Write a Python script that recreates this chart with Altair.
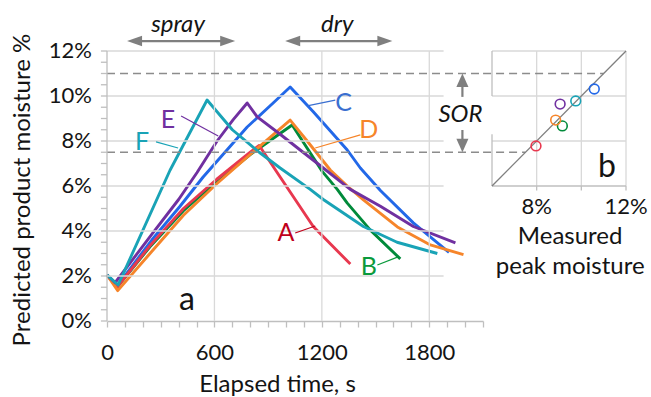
import altair as alt
import pandas as pd

FONT = "Lato"
TXT = "#141414"
GRID = "#D9D9D9"
AXC = "#BFBFBF"
ARROW = "#7F7F7F"

# ---------------- data: predicted moisture (%) vs elapsed time (s) ----------------
series = ["C", "B", "A", "D", "E", "F"]   # draw order
line_colors = {"A": "#E8384F", "B": "#008A3A", "C": "#2268E8",
               "D": "#F6852A", "E": "#7030A0", "F": "#19A3B6"}
label_colors = {"A": "#C0001A", "B": "#0A9A3C", "C": "#3A6FD0",
                "D": "#F6852A", "E": "#7030A0", "F": "#19A3B6"}

A_t = [0, 56, 240, 427, 613, 800, 850, 967, 1152, 1359]
A_v = [2.05, 1.5, 3.35, 5.0, 6.3, 7.5, 7.8, 6.4, 4.2, 2.53]
B_t = [0, 56, 240, 427, 613, 800, 1034, 1202, 1286, 1342, 1471, 1638]
B_v = [2.05, 1.5, 3.3, 4.9, 6.2, 7.4, 8.71, 6.65, 5.85, 5.24, 4.04, 2.76]
C_t = [0, 56, 250, 408, 537, 783, 928, 1023, 1152, 1342, 1415, 1527, 1711, 1910]
C_v = [2.05, 1.55, 3.6, 5.1, 6.4, 8.62, 9.69, 10.4, 9.3, 7.6, 6.8, 5.8, 4.36, 3.05]
D_t = [0, 60, 240, 427, 613, 800, 1023, 1118, 1247, 1342, 1432, 1622, 1806, 1991]
D_v = [2.05, 1.35, 3.0, 4.7, 6.1, 7.4, 8.93, 8.0, 6.71, 6.0, 5.38, 4.18, 3.38, 2.95]
E_t = [0, 45, 250, 400, 503, 615, 705, 783, 839, 967, 1079, 1208, 1359, 1527, 1711, 1946]
E_v = [2.05, 1.7, 3.85, 5.4, 6.6, 8.0, 8.95, 9.69, 9.07, 8.3, 7.6, 6.8, 5.85, 5.1, 4.2, 3.47]
F_t = [0, 62, 352, 559, 700, 850, 967, 1135, 1208, 1432, 1620, 1845]
F_v = [2.05, 1.6, 6.7, 9.82, 8.5, 7.5, 6.8, 5.85, 5.4, 4.2, 3.5, 3.0]

# inset: measured vs predicted peak moisture (%)
peak_series = ["A", "B", "C", "D", "E", "F"]
peak_measured = [7.97, 9.15, 10.58, 8.85, 9.05, 9.75]
peak_predicted = [7.78, 8.67, 10.31, 8.93, 9.64, 9.78]

# line labels and leader lines
lab_names = ["A", "B", "C", "D", "E", "F"]
lab_t = [1000, 1462, 1322, 1462, 341, 196]
lab_v = [3.91, 2.4, 9.69, 8.49, 8.93, 7.96]
lead_t1 = [1051, 1510, 1275, 1415, 414, 274]
lead_v1 = [3.91, 2.49, 9.82, 8.27, 9.11, 7.96]
lead_t2 = [1163, 1622, 1118, 1163, 621, 397]
lead_v2 = [4.22, 2.84, 9.56, 7.69, 8.22, 7.69]

# axis ticks / grid
x_ticks = list(range(0, 2101, 100))
y_ticks = [i * 0.5 for i in range(25)]
y_labels = [0, 2, 4, 6, 8, 10, 12]
h_grid = [2, 4, 6, 8, 10, 12]
v_grid = [600, 1200, 1800]
sor_levels = [11, 7.5]
inset_grid = [8, 10]

# ---------------- tables ----------------
all_t = {"A": A_t, "B": B_t, "C": C_t, "D": D_t, "E": E_t, "F": F_t}
all_v = {"A": A_v, "B": B_v, "C": C_v, "D": D_v, "E": E_v, "F": F_v}
rows = []
for s in series:
    for t, v in zip(all_t[s], all_v[s]):
        rows.append({"series": s, "t": t, "v": v})
df_lines = pd.DataFrame(rows)

df_peak = pd.DataFrame({"series": peak_series, "meas": peak_measured, "pred": peak_predicted,
                        "col": [line_colors[s] for s in peak_series]})
df_lab = pd.DataFrame({"name": lab_names, "t": lab_t, "v": lab_v,
                       "col": [label_colors[s] for s in lab_names]})
df_lead = pd.DataFrame({"t": lead_t1, "v": lead_v1, "t2": lead_t2, "v2": lead_v2,
                        "col": [label_colors[s] for s in lab_names]})

YS = alt.Scale(domain=[0, 12], nice=False, zero=False)


def XS():
    return alt.Scale(domain=[0, 2100], nice=False, zero=False)


def IXS():
    return alt.Scale(domain=[6, 12], range=[385, 519], nice=False, zero=False)


def X(field):
    return alt.X(field, type="quantitative", scale=XS(), axis=None)


def Y(field):
    return alt.Y(field, type="quantitative", scale=YS, axis=None)


def IX(field):
    return alt.X(field, type="quantitative", scale=IXS(), axis=None)


# ---------------- main panel ----------------
hgrid = alt.Chart(pd.DataFrame({"v": h_grid, "t": 0, "t2": 1880})).mark_rule(
    color=GRID, strokeWidth=1.3).encode(x=X("t"), x2="t2", y=Y("v"))
vgrid = alt.Chart(pd.DataFrame({"t": v_grid, "v": 0, "v2": 12})).mark_rule(
    color=GRID, strokeWidth=1.3).encode(x=X("t"), y=Y("v"), y2="v2")
dash_main = alt.Chart(pd.DataFrame({"v": sor_levels, "t": 0, "t2": 2100})).mark_rule(
    color="#8C8C8C", strokeWidth=1.5, strokeDash=[8, 5]).encode(x=X("t"), x2="t2", y=Y("v"))

x_axis = alt.Axis(values=x_ticks, format="d", orient="bottom",
                  labelExpr="datum.value % 600 === 0 ? datum.label : ''",
                  labelOverlap=False, labelFlush=False, grid=False,
                  domainColor=AXC, domainWidth=1.3, tickColor=AXC, tickWidth=1.3, tickSize=6,
                  labelFont=FONT, labelFontSize=22, labelColor=TXT, labelPadding=15,
                  title="Elapsed time, s", titleFont=FONT, titleFontSize=24,
                  titleFontWeight="normal", titleColor=TXT, titleX=170, titleY=63,
                  titleAlign="center", titleBaseline="middle")

lines = alt.Chart(df_lines).mark_line(strokeWidth=2.9, strokeJoin="round").encode(
    x=alt.X("t:Q", scale=XS(), axis=x_axis),
    y=Y("v"),
    color=alt.Color("series:N", scale=alt.Scale(domain=series,
                                                range=[line_colors[s] for s in series]),
                    legend=None),
    detail="series:N",
)

# y axis (drawn with rules and text through the scales)
y_domain = alt.Chart(pd.DataFrame({"t": [0], "v": [0], "v2": [12]})).mark_rule(
    color=AXC, strokeWidth=1.3).encode(x=X("t"), y=Y("v"), y2="v2")
y_tick_marks = alt.Chart(pd.DataFrame({"v": y_ticks, "t": -34, "t2": 0})).mark_rule(
    color=AXC, strokeWidth=1.3).encode(x=X("t"), x2="t2", y=Y("v"))
y_tick_labels = alt.Chart(pd.DataFrame({"v": y_labels, "t": -84,
                                        "txt": [f"{v}%" for v in y_labels]})).mark_text(
    font=FONT, fontSize=22, color=TXT, align="right", baseline="middle").encode(
    x=X("t"), y=Y("v"), text="txt:N")
y_title = alt.Chart(pd.DataFrame({"t": [-468], "v": [5.82],
                                  "txt": ["Predicted product moisture %"]})).mark_text(
    font=FONT, fontSize=24, color=TXT, angle=270, align="center", baseline="middle").encode(
    x=X("t"), y=Y("v"), text="txt:N")

leaders = alt.Chart(df_lead).mark_rule(strokeWidth=1.2).encode(
    x=X("t"), x2="t2", y=Y("v"), y2="v2", color=alt.Color("col:N", scale=None))
labels = alt.Chart(df_lab).mark_text(font=FONT, fontSize=25).encode(
    x=X("t"), y=Y("v"), text="name:N", color=alt.Color("col:N", scale=None))

# spray / dry arrows
df_arrow_line = pd.DataFrame({"t": [154, 1037], "t2": [674, 1552], "v": [12.44, 12.44]})
arrow_lines = alt.Chart(df_arrow_line).mark_rule(color=ARROW, strokeWidth=2.2).encode(
    x=X("t"), x2="t2", y=Y("v"))
left_heads = alt.Chart(pd.DataFrame({"t": [154, 1037], "v": [12.44, 12.44]})).mark_point(
    shape="M1,-0.7L-1,0L1,0.7Z", filled=True, size=225, color=ARROW, opacity=1
).encode(x=X("t"), y=Y("v"))
right_heads = alt.Chart(pd.DataFrame({"t": [674, 1552], "v": [12.44, 12.44]})).mark_point(
    shape="M-1,-0.7L1,0L-1,0.7Z", filled=True, size=225, color=ARROW, opacity=1
).encode(x=X("t"), y=Y("v"))
phase_text = alt.Chart(pd.DataFrame({"t": [397, 1286], "v": [13.15, 13.15],
                                     "txt": ["spray", "dry"]})).mark_text(
    font=FONT, fontSize=24, fontStyle="italic", color=TXT).encode(
    x=X("t"), y=Y("v"), text="txt:N")

# SOR arrows
sor_stem = alt.Chart(pd.DataFrame({"t": [1985, 1985], "v": [9.96, 8.49],
                                   "v2": [10.7, 7.8]})).mark_rule(
    color=ARROW, strokeWidth=2.2).encode(x=X("t"), y=Y("v"), y2="v2")
up_head = alt.Chart(pd.DataFrame({"t": [1985], "v": [10.7]})).mark_point(
    shape="M-0.9,1L0,-1L0.9,1Z", filled=True, size=180, color=ARROW, opacity=1
).encode(x=X("t"), y=Y("v"))
down_head = alt.Chart(pd.DataFrame({"t": [1985], "v": [7.8]})).mark_point(
    shape="M-0.9,-1L0,1L0.9,-1Z", filled=True, size=180, color=ARROW, opacity=1
).encode(x=X("t"), y=Y("v"))
sor_text = alt.Chart(pd.DataFrame({"t": [1974], "v": [9.16], "txt": ["SOR"]})).mark_text(
    font=FONT, fontSize=24, fontStyle="italic", color=TXT).encode(
    x=X("t"), y=Y("v"), text="txt:N")

a_text = alt.Chart(pd.DataFrame({"t": [447], "v": [0.95], "txt": ["a"]})).mark_text(
    font=FONT, fontSize=32, color=TXT).encode(x=X("t"), y=Y("v"), text="txt:N")

# ---------------- inset panel ----------------
ig_v = alt.Chart(pd.DataFrame({"m": inset_grid, "v": 6, "v2": 12})).mark_rule(
    color=GRID, strokeWidth=1.3).encode(x=IX("m"), y=Y("v"), y2="v2")
ig_h = alt.Chart(pd.DataFrame({"v": inset_grid, "m": 6, "m2": 12})).mark_rule(
    color=GRID, strokeWidth=1.3).encode(x=IX("m"), x2="m2", y=Y("v"))
frame_light = alt.Chart(pd.DataFrame({"m": [6, 12], "m2": [12, 12], "v": [12, 6],
                                      "v2": [12, 12]})).mark_rule(
    color=GRID, strokeWidth=1.3).encode(x=IX("m"), x2="m2", y=Y("v"), y2="v2")
frame_dark = alt.Chart(pd.DataFrame({"m": [6, 6, 6], "m2": [12, 6, 6], "v": [6, 6, 10],
                                     "v2": [6, 8.3, 12]})).mark_rule(
    color=AXC, strokeWidth=1.3).encode(x=IX("m"), x2="m2", y=Y("v"), y2="v2")
iticks = alt.Chart(pd.DataFrame({"m": [8, 10, 12], "v": 6, "v2": 5.8})).mark_rule(
    color=AXC, strokeWidth=1.3).encode(x=IX("m"), y=Y("v"), y2="v2")
dash_inset = alt.Chart(pd.DataFrame({"v": sor_levels, "m": 5.6, "m2": sor_levels})).mark_rule(
    color="#8C8C8C", strokeWidth=1.5, strokeDash=[8, 5]).encode(x=IX("m"), x2="m2", y=Y("v"))
diag = alt.Chart(pd.DataFrame({"m": [6], "m2": [12], "v": [6], "v2": [12]})).mark_rule(
    color="#7F7F7F", strokeWidth=1.3).encode(x=IX("m"), x2="m2", y=Y("v"), y2="v2")
pts = alt.Chart(df_peak).mark_point(shape="circle", size=95, strokeWidth=1.6,
                                    filled=False, opacity=1).encode(
    x=IX("meas"), y=Y("pred"), color=alt.Color("col:N", scale=None))
itick_lab = alt.Chart(pd.DataFrame({"m": [8, 12], "v": [5.07, 5.07],
                                    "txt": ["8%", "12%"]})).mark_text(
    font=FONT, fontSize=22, color=TXT, baseline="middle").encode(
    x=IX("m"), y=Y("v"), text="txt:N")
ititle = alt.Chart(pd.DataFrame({"m": [9.5, 9.5], "v": [3.72, 2.4],
                                 "txt": ["Measured", "peak moisture"]})).mark_text(
    font=FONT, fontSize=24, color=TXT, baseline="middle").encode(
    x=IX("m"), y=Y("v"), text="txt:N")
b_text = alt.Chart(pd.DataFrame({"m": [11.15], "v": [6.84], "txt": ["b"]})).mark_text(
    font=FONT, fontSize=32, color=TXT).encode(x=IX("m"), y=Y("v"), text="txt:N")

chart = alt.layer(
    lines, hgrid, vgrid, dash_main, y_domain, y_tick_marks, y_tick_labels, y_title,
    leaders, labels, arrow_lines,
    left_heads, right_heads, phase_text, sor_stem, up_head, down_head, sor_text, a_text,
    ig_v, ig_h, frame_light, frame_dark, iticks, dash_inset, diag, pts,
    itick_lab, ititle, b_text,
).resolve_scale(x="independent").properties(
    width=376, height=270,
    autosize=alt.AutoSizeParams(type="none"),
    padding={"left": 107, "top": 51, "right": 168, "bottom": 76},
    background="white",
).configure_view(stroke=None)

chart.save("out.html", embed_options={"renderer": "svg", "actions": False})
